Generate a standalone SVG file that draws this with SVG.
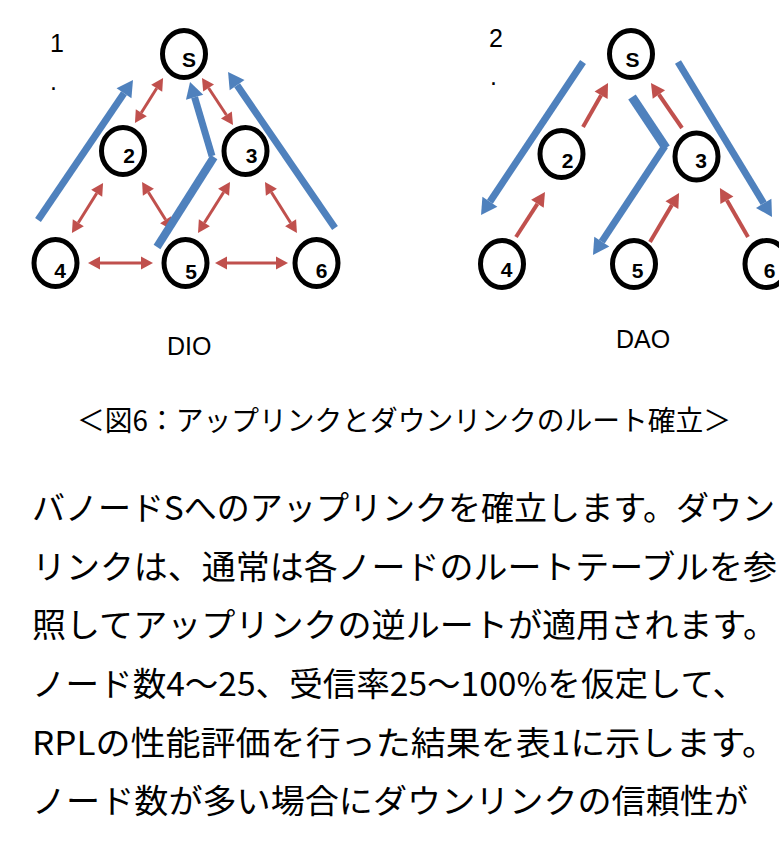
<svg xmlns="http://www.w3.org/2000/svg" width="779" height="845" viewBox="0 0 779 845">
<style>
.node ellipse{fill:#fff;stroke:#000;stroke-width:5}
.node text{font-family:"Liberation Sans",Arial,sans-serif;font-weight:bold;font-size:21px;fill:#000;text-anchor:middle}
.lbl{font-family:"Liberation Sans",Arial,sans-serif;font-size:25px;fill:#000}
.body{font-family:"Noto Sans CJK JP","Noto Sans",sans-serif;font-size:33px;fill:#000}
.cap{font-family:"Noto Sans CJK JP","Noto Sans",sans-serif;font-size:28px;fill:#000}
.blue{stroke:#4F81BD;stroke-width:7;fill:none;stroke-linecap:butt}
.redl{stroke:#C0504D;stroke-width:3;fill:none}
.redr{stroke:#C0504D;stroke-width:4;fill:none}
</style>
<defs>
<marker id="hb" markerUnits="userSpaceOnUse" markerWidth="20" markerHeight="20" refX="0" refY="9" orient="auto-start-reverse" overflow="visible"><path d="M0,0 L16,9 L0,18 Z" fill="#4F81BD"/></marker>
<marker id="hrl" markerUnits="userSpaceOnUse" markerWidth="14" markerHeight="14" refX="0" refY="6.5" orient="auto-start-reverse" overflow="visible"><path d="M0,0 L12,6.5 L0,13 Z" fill="#C0504D"/></marker>
<marker id="hrr" markerUnits="userSpaceOnUse" markerWidth="16" markerHeight="16" refX="0" refY="7.5" orient="auto-start-reverse" overflow="visible"><path d="M0,0 L14,7.5 L0,15 Z" fill="#C0504D"/></marker>
</defs>

<text class="lbl" x="50" y="52">1</text>
<text class="lbl" x="50" y="90">.</text>
<text class="lbl" x="489" y="47">2</text>
<text class="lbl" x="490" y="85">.</text>

<g id="connectors">
<!-- left diagram: DIO -->
<line class="redl" x1="141.3" y1="112.8" x2="156.7" y2="88.2" marker-start="url(#hrl)" marker-end="url(#hrl)"/>
<line class="redl" x1="208.6" y1="88" x2="226.4" y2="115" marker-start="url(#hrl)" marker-end="url(#hrl)"/>
<line class="redl" x1="96.7" y1="193.2" x2="78.3" y2="222.8" marker-start="url(#hrl)" marker-end="url(#hrl)"/>
<line class="redl" x1="148.4" y1="192.2" x2="165.6" y2="219.8" marker-start="url(#hrl)" marker-end="url(#hrl)"/>
<line class="redl" x1="223.6" y1="192.2" x2="204.4" y2="222.8" marker-start="url(#hrl)" marker-end="url(#hrl)"/>
<line class="redl" x1="271.4" y1="192.2" x2="290.6" y2="222.8" marker-start="url(#hrl)" marker-end="url(#hrl)"/>
<line class="redl" x1="100" y1="263" x2="141" y2="263" marker-start="url(#hrl)" marker-end="url(#hrl)"/>
<line class="redl" x1="227" y1="263" x2="276" y2="263" marker-start="url(#hrl)" marker-end="url(#hrl)"/>
<line class="blue" x1="38" y1="220" x2="124" y2="93.2" marker-end="url(#hb)"/>
<line class="blue" x1="157" y1="247" x2="214" y2="157" style="stroke-width:8"/>
<line class="blue" x1="212" y1="156" x2="194.6" y2="97.3" marker-end="url(#hb)"/>
<line class="blue" x1="335" y1="228" x2="237.1" y2="85.2" marker-end="url(#hb)"/>
<!-- right diagram: DAO -->
<line class="redr" x1="516" y1="237" x2="537.4" y2="203.8" marker-end="url(#hrr)"/>
<line class="redr" x1="583" y1="127" x2="601.1" y2="95.2" marker-end="url(#hrr)"/>
<line class="redr" x1="682" y1="128" x2="658.9" y2="94.5" marker-end="url(#hrr)"/>
<line class="redr" x1="650" y1="242" x2="671.9" y2="205.1" marker-end="url(#hrr)"/>
<line class="redr" x1="748" y1="237" x2="726.9" y2="200.2" marker-end="url(#hrr)"/>
<line class="blue" x1="583" y1="62" x2="489.9" y2="201.7" marker-end="url(#hb)"/>
<line class="blue" x1="678" y1="62" x2="763.7" y2="203.3" marker-end="url(#hb)"/>
<line class="blue" x1="632" y1="97" x2="666" y2="148" style="stroke-width:9"/>
<line class="blue" x1="665" y1="146" x2="601.8" y2="241.6" marker-end="url(#hb)"/>
</g>

<g id="dio-S" class="node"><ellipse cx="184" cy="54" rx="21.5" ry="23.5"/><text x="189" y="67">S</text></g>
<g id="dio-2" class="node"><ellipse cx="123" cy="151" rx="21.5" ry="23.5"/><text x="129" y="163">2</text></g>
<g id="dio-3" class="node"><ellipse cx="245.5" cy="151" rx="21.5" ry="23.5"/><text x="251.5" y="163">3</text></g>
<g id="dio-4" class="node"><ellipse cx="55.5" cy="263" rx="21.5" ry="23.5"/><text x="60" y="278">4</text></g>
<g id="dio-5" class="node"><ellipse cx="185.5" cy="263" rx="21.5" ry="23.5"/><text x="191" y="279">5</text></g>
<g id="dio-6" class="node"><ellipse cx="316.5" cy="263" rx="21.5" ry="23.5"/><text x="321.5" y="278">6</text></g>

<g id="dao-S" class="node"><ellipse cx="631" cy="54" rx="21.5" ry="23.5"/><text x="632.5" y="67">S</text></g>
<g id="dao-2" class="node"><ellipse cx="561.5" cy="154" rx="21.5" ry="23.5"/><text x="567.5" y="168">2</text></g>
<g id="dao-3" class="node"><ellipse cx="696.5" cy="156.5" rx="21.5" ry="23.5"/><text x="701" y="168">3</text></g>
<g id="dao-4" class="node"><ellipse cx="502" cy="264" rx="21.5" ry="23.5"/><text x="506.5" y="277">4</text></g>
<g id="dao-5" class="node"><ellipse cx="634" cy="264" rx="21.5" ry="23.5"/><text x="637.5" y="278">5</text></g>
<g id="dao-6" class="node"><ellipse cx="766.5" cy="264" rx="21.5" ry="23.5"/><text x="769.5" y="278">6</text></g>

<text class="lbl" x="167" y="355">DIO</text>
<text class="lbl" x="616" y="348">DAO</text>

<text class="cap" x="77" y="431" textLength="654" lengthAdjust="spacingAndGlyphs">＜図6：アップリンクとダウンリンクのルート確立＞</text>

<text class="body" x="32" y="520" textLength="743" lengthAdjust="spacingAndGlyphs">バノードSへのアップリンクを確立します。ダウン</text>
<text class="body" x="32" y="579" textLength="745" lengthAdjust="spacingAndGlyphs">リンクは、通常は各ノードのルートテーブルを参</text>
<text class="body" x="32" y="637" textLength="745" lengthAdjust="spacingAndGlyphs">照してアップリンクの逆ルートが適用されます。</text>
<text class="body" x="32" y="696" textLength="714" lengthAdjust="spacingAndGlyphs">ノード数4〜25、受信率25〜100%を仮定して、</text>
<text class="body" x="32" y="755" textLength="745" lengthAdjust="spacingAndGlyphs">RPLの性能評価を行った結果を表1に示します。</text>
<text class="body" x="32" y="813" textLength="716" lengthAdjust="spacingAndGlyphs">ノード数が多い場合にダウンリンクの信頼性が</text>
</svg>
